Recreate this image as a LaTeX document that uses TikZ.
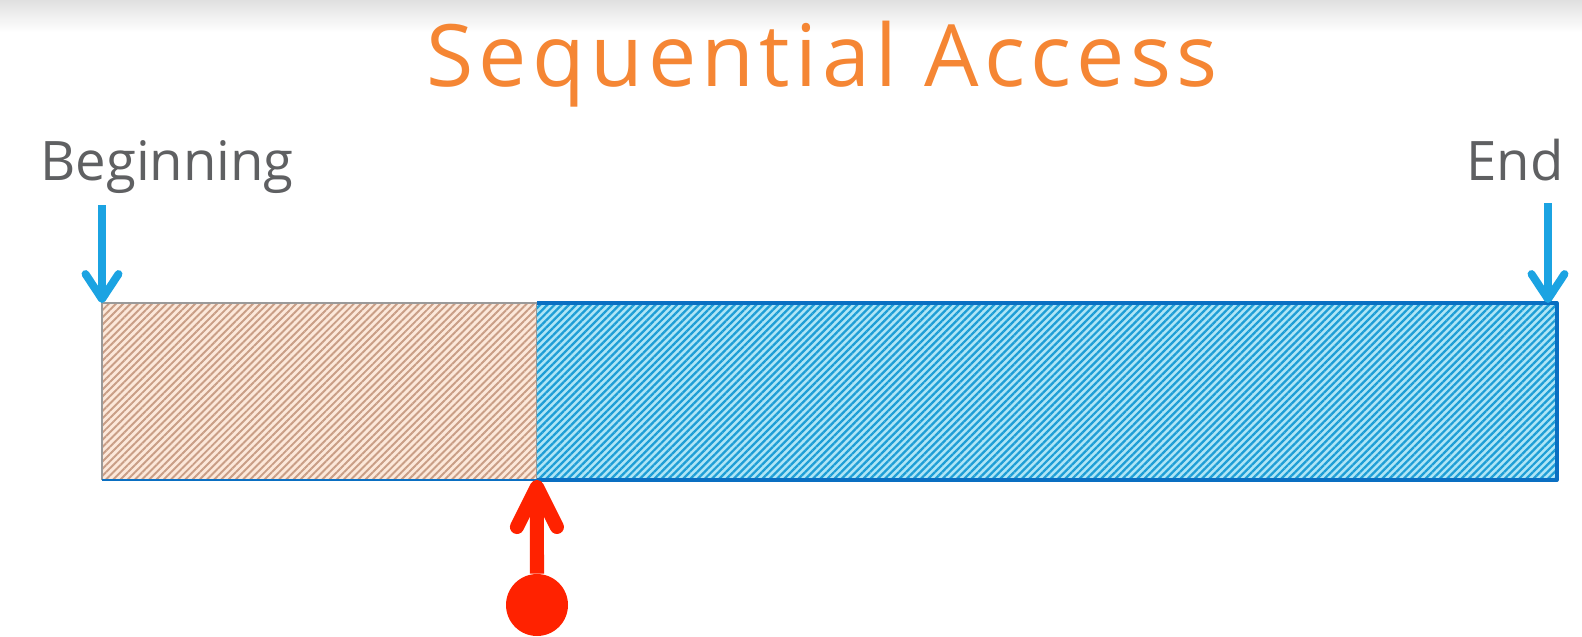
\documentclass[tikz,border=0pt]{standalone}
\usepackage{fontspec}
\setmainfont{Open Sans}
\newfontfamily\headfont[LetterSpace=6]{Open Sans}
\usetikzlibrary{arrows.meta, positioning, patterns.meta}
\definecolor{titleorange}{HTML}{F58634}
\definecolor{labelgray}{HTML}{5F6062}
\definecolor{arrowblue}{HTML}{1BA3E2}
\definecolor{barblue}{HTML}{0A6FC2}
\definecolor{restbg}{HTML}{AEE5F6}
\definecolor{restline}{HTML}{1E9ED6}
\definecolor{readbg}{HTML}{FCE8DA}
\definecolor{readline}{HTML}{C99E86}
\definecolor{edgegray}{HTML}{9A9A9A}
\definecolor{posred}{HTML}{FF2200}

\begin{document}
\begin{tikzpicture}[
    x=0.02cm, y=-0.02cm,
    heading/.style={text=titleorange, font=\headfont\fontsize{49}{58}\selectfont, inner sep=0pt, anchor=base},
    marker/.style={text=labelgray, font=\fontsize{31}{37}\selectfont, inner sep=0pt},
    readpart/.style={rectangle, inner sep=0pt, outer sep=0pt, minimum width=8.7cm, minimum height=3.54cm, preaction={fill=readbg}, pattern={Lines[angle=45, distance=2.9pt, line width=1.1pt]}, pattern color=readline, draw=edgegray, line width=0.6pt},
    restpart/.style={rectangle, inner sep=0pt, outer sep=0pt, minimum width=20.4cm, minimum height=3.54cm, preaction={fill=restbg}, pattern={Lines[angle=45, distance=2.9pt, line width=1.3pt]}, pattern color=restline},
    endarrow/.style={line width=4.5pt, draw=arrowblue, -{Straight Barb[length=0.5cm, width=0.66cm, round]}},
    posarrow/.style={line width=8pt, draw=posred, -{Straight Barb[length=0.8cm, width=0.8cm, round]}},
    posdot/.style={circle, fill=posred, minimum size=1.24cm, inner sep=0pt}]
\useasboundingbox (0,0) rectangle (1582,636);
\shade[top color=black!12, bottom color=white] (0,0) rectangle (1582,32);
\node (title) [heading] at (822,86) {Sequential Access};
\node (begin) [marker, anchor=base west] at (40,180) {Beginning};
\node (end) [marker, anchor=base east] at (1564,180) {End};
\node (done) [readpart, anchor=north west] at (102,303) {};
\node (rest) [restpart, right=0pt of done] {};
\draw [barblue, line width=1.6pt] (done.south west) -- (done.south east);
\draw [barblue, line width=2.2pt, line join=round] (rest.north west) -- (rest.north east) -- (rest.south east) -- (rest.south west);
\coordinate (beginTop) at (102,205);
\coordinate (endTop) at (1548,203);
\draw [endarrow] (beginTop) -- (done.north west);
\draw [endarrow] (endTop) -- (endTop |- rest.north);
\node (pos) [posdot] at (537,605) {};
\draw [posarrow] (pos) -- (done.south east);
\end{tikzpicture}
\end{document}
